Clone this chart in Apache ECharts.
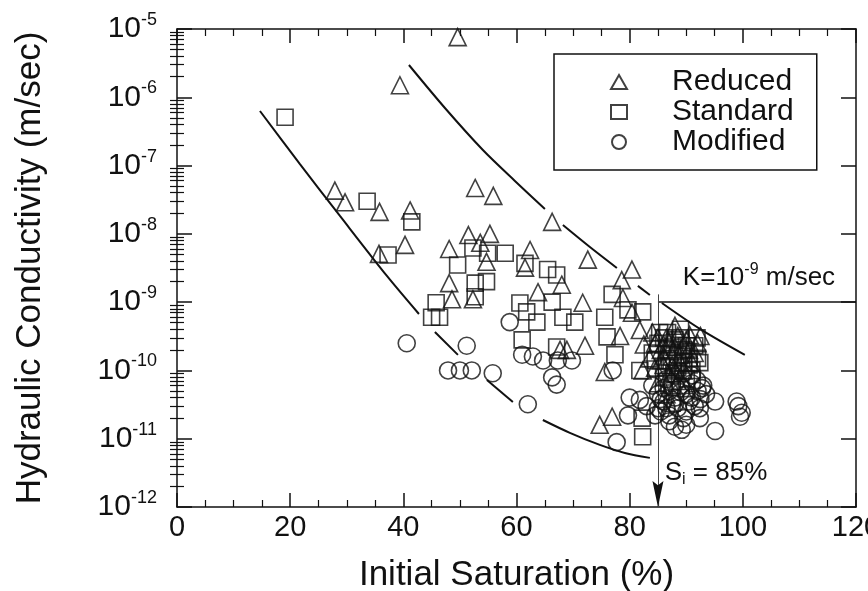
<!DOCTYPE html>
<html>
<head>
<meta charset="utf-8">
<script src="https://cdn.jsdelivr.net/npm/echarts@6/dist/echarts.min.js"></script>
<style>
  html, body { margin: 0; padding: 0; background: #ffffff; }
  #chart { width: 868px; height: 591px; }
</style>
</head>
<body>
<div id="chart"></div>
<script>
// Hydraulic conductivity vs. initial saturation, by compaction effort.
// Each point: [initial saturation (%), hydraulic conductivity (m/sec)]
const reduced = [
  [49.6, 7.6e-6], [39.4, 1.5e-6], [27.9, 4.3e-8], [29.7, 2.9e-8], [35.8, 2.1e-8],
  [41.2, 2.2e-8], [40.3, 6.9e-9], [35.7, 5.1e-9], [52.7, 4.7e-8], [55.9, 3.6e-8],
  [66.3, 1.5e-8], [51.5, 9.6e-9], [55.3, 1.0e-8], [53.6, 7.4e-9], [48.1, 6.0e-9],
  [54.7, 3.9e-9], [62.4, 5.8e-9], [61.5, 3.2e-9], [72.6, 4.2e-9], [80.4, 3.0e-9],
  [78.6, 2.1e-9], [48.1, 1.9e-9], [48.6, 1.1e-9], [52.3, 1.1e-9], [63.8, 1.4e-9],
  [68.0, 1.8e-9], [71.7, 9.8e-10], [72.1, 2.3e-10], [67.7, 2.0e-10], [68.9, 2.0e-10],
  [74.7, 1.6e-11], [76.9, 2.1e-11], [75.6, 9.5e-11], [78.8, 1.15e-9], [80.4, 7.0e-10],
  [78.3, 3.2e-10], [81.8, 3.9e-10], [82.3, 1.0e-10],
  [84.5, 2.5e-10], [85.5, 2.0e-10], [86.5, 3.0e-10], [87.5, 1.6e-10], [88.0, 2.2e-10],
  [89.0, 1.3e-10], [90.0, 2.8e-10], [90.6, 3.3e-10], [91.5, 1.8e-10], [86.0, 1.2e-10],
  [87.0, 9.0e-11], [88.5, 7.0e-11], [85.0, 6.5e-11], [83.5, 1.5e-10], [82.5, 2.4e-10],
  [84.0, 3.6e-10], [89.5, 1.0e-10], [92.0, 2.5e-10], [88.0, 4.5e-10], [86.5, 4.5e-11],
  [90.0, 5.5e-11], [85.0, 3.0e-10], [86.0, 2.4e-10], [87.0, 2.6e-10], [88.5, 3.2e-10],
  [89.5, 2.4e-10], [90.5, 2.0e-10], [91.0, 1.3e-10], [87.5, 1.2e-10], [86.0, 1.6e-10],
  [84.5, 1.1e-10], [89.0, 1.7e-10], [92.5, 3.2e-10], [85.5, 1.4e-10], [88.0, 1.0e-10]
];

const standard = [
  [19.1, 5.1e-7], [33.6, 3.0e-8], [41.5, 1.5e-8], [37.3, 4.9e-9], [45.8, 9.8e-10],
  [45.0, 6.0e-10], [46.4, 6.0e-10], [52.3, 6.2e-9], [49.6, 3.5e-9], [54.9, 5.2e-9],
  [58.0, 5.2e-9], [54.7, 2.0e-9], [52.7, 1.9e-9], [52.7, 1.2e-9], [61.5, 3.7e-9],
  [65.5, 3.0e-9], [67.1, 2.5e-9], [66.3, 1.0e-9], [60.6, 9.7e-10], [61.8, 7.2e-10],
  [63.6, 5.1e-10], [68.2, 6.0e-10], [70.3, 5.1e-10], [61.0, 2.8e-10], [75.6, 6.0e-10],
  [76.0, 3.1e-10], [76.9, 1.3e-9], [67.1, 2.2e-10], [79.7, 7.7e-10], [82.3, 7.2e-10],
  [77.4, 1.7e-10], [81.8, 1.0e-10], [82.2, 2.0e-11], [82.3, 1.07e-11],
  [85.3, 3.6e-10], [91.9, 3.0e-10], [86.5, 2.0e-10], [88.0, 2.8e-10], [89.5, 2.0e-10],
  [87.0, 1.4e-10], [90.5, 1.5e-10], [88.5, 1.1e-10], [86.0, 8.0e-11], [91.0, 1.0e-10],
  [84.0, 1.8e-10], [89.0, 4.0e-10], [87.5, 6.0e-11], [90.0, 7.5e-11], [92.4, 1.3e-10],
  [86.7, 3.6e-10], [87.5, 3.3e-11], [85.0, 2.5e-10], [86.0, 3.0e-10], [87.5, 2.2e-10],
  [89.0, 3.0e-10], [90.0, 2.3e-10], [88.5, 1.7e-10], [89.5, 1.3e-10], [86.5, 1.1e-10],
  [87.8, 9.0e-11], [90.5, 1.2e-10], [84.5, 1.4e-10], [91.5, 2.3e-10], [92.0, 1.5e-10]
];

const modified = [
  [40.6, 2.5e-10], [51.2, 2.3e-10], [47.9, 1.0e-10], [50.0, 1.0e-10], [52.1, 1.0e-10],
  [55.8, 9.1e-11], [62.0, 3.2e-11], [58.8, 5.1e-10], [61.0, 1.7e-10], [62.9, 1.6e-10],
  [64.7, 1.4e-10], [67.3, 1.4e-10], [69.8, 1.4e-10], [66.3, 7.9e-11], [67.1, 6.2e-11],
  [77.7, 8.9e-12], [80.0, 4.0e-11], [79.7, 2.2e-11], [77.0, 1.0e-10], [81.8, 3.7e-11],
  [95.1, 3.5e-11], [95.1, 1.3e-11], [98.9, 3.5e-11], [99.2, 3.0e-11], [99.8, 2.4e-11],
  [99.5, 2.1e-11], [89.2, 1.35e-11], [92.4, 2.0e-11],
  [84.0, 6.0e-11], [85.0, 4.5e-11], [86.0, 3.5e-11], [87.0, 5.0e-11], [88.0, 4.0e-11],
  [89.0, 6.0e-11], [90.0, 4.5e-11], [91.0, 6.5e-11], [92.0, 5.0e-11], [93.0, 6.0e-11],
  [85.5, 2.5e-11], [87.0, 2.2e-11], [88.5, 2.8e-11], [90.0, 2.5e-11], [91.5, 3.0e-11],
  [86.5, 7.5e-11], [88.0, 8.5e-11], [89.5, 9.0e-11], [91.0, 8.5e-11], [84.5, 2.2e-11],
  [87.0, 1.8e-11], [83.0, 3.0e-11], [91.9, 7.2e-11], [92.8, 5.5e-11], [85.0, 2.8e-11],
  [92.4, 2.8e-11], [86.0, 5.5e-11], [87.5, 6.5e-11], [89.0, 4.8e-11], [90.5, 3.5e-11],
  [88.0, 3.2e-11], [86.5, 2.8e-11], [89.5, 2.0e-11], [91.0, 4.0e-11], [92.5, 3.8e-11],
  [90.0, 1.6e-11], [88.0, 1.5e-11], [93.5, 4.5e-11], [85.5, 3.8e-11]
];

// Envelope curves (segments are broken where symbols sit on the line)
const lowerBound = [
  [[14.66, 6.30e-7], [21.73, 1.05e-7], [28.80, 1.83e-8], [37.10, 2.42e-9], [42.76, 6.71e-10]],
  [[45.58, 3.66e-10], [49.65, 1.69e-10]],
  [[54.77, 7.26e-11], [59.36, 3.46e-11]],
  [[64.66, 1.88e-11], [69.43, 1.22e-11], [74.73, 8.11e-12], [79.15, 6.19e-12], [83.57, 5.24e-12]]
];
const upperBound = [
  [[40.99, 2.97e-6], [47.35, 6.97e-7], [54.06, 1.69e-7], [59.72, 5.96e-8], [65.02, 2.32e-8]],
  [[68.20, 1.35e-8], [72.97, 6.43e-9], [77.74, 3.17e-9]],
  [[81.45, 1.73e-9], [83.57, 1.27e-9]],
  [[85.69, 9.7e-10], [92.40, 4.06e-10], [100.35, 1.69e-10]]
];

const seriesNames = ['Reduced', 'Standard', 'Modified'];
const kLimit = 1e-9;      // m/sec
const satLimit = 85;      // %
const xTicks = { min: 0, max: 120, step: 20 };
const yDecades = { min: 1e-12, max: 1e-5 };

const FONT = '"Liberation Sans", Arial, Helvetica, sans-serif';
const INK = '#111111';

// log-spaced minor tick values (2..9 x 10^n)
const minorLogTicks = [];
for (let e = -12; e < -5; e++) {
  for (let k = 2; k <= 9; k++) minorLogTicks.push(k * Math.pow(10, e));
}

const markerStyle = { color: 'rgba(0,0,0,0)', borderColor: INK, borderWidth: 1.6 };

function curveSeries(segments, name) {
  return segments.map((seg, i) => ({
    name: name + i,
    type: 'line',
    data: seg,
    smooth: 0.3,
    showSymbol: false,
    symbol: 'none',
    silent: true,
    z: 1,
    lineStyle: { color: INK, width: 2 }
  }));
}

const yLabelRich = {
  b: { fontSize: 30, fontFamily: FONT, color: INK, lineHeight: 36 },
  s: { fontSize: 18, fontFamily: FONT, color: INK, verticalAlign: 'top', lineHeight: 18 }
};

const chart = echarts.init(document.getElementById('chart'), null, { renderer: 'canvas' });

const option = {
  backgroundColor: '#ffffff',
  animation: false,
  grid: { left: 177, right: 12, top: 29, bottom: 84, outerBoundsMode: 'none', containLabel: false },
  legend: {
    data: seriesNames,
    orient: 'vertical',
    left: 554,
    top: 54,
    padding: [13, 23, 13, 56],
    itemGap: 0,
    itemWidth: 16,
    itemHeight: 14,
    borderColor: INK,
    borderWidth: 1.5,
    selectedMode: false,
    textStyle: { fontSize: 30, fontFamily: FONT, color: INK, lineHeight: 29, padding: [0, 0, 0, 40] }
  },
  xAxis: [
    {
      type: 'value', position: 'bottom',
      min: xTicks.min, max: xTicks.max, interval: xTicks.step,
      name: 'Initial Saturation (%)', nameLocation: 'middle', nameGap: 51,
      nameTextStyle: { fontSize: 35, fontFamily: FONT, color: INK },
      axisLine: { show: true, onZero: false, lineStyle: { color: INK, width: 1.5 } },
      axisTick: { show: true, inside: true, length: 14, lineStyle: { color: INK, width: 1.5 } },
      minorTick: { show: true, splitNumber: 4, length: 7, lineStyle: { color: INK, width: 1.2 } },
      axisLabel: { fontSize: 29, fontFamily: FONT, color: INK, margin: 6, showMinLabel: true, showMaxLabel: true },
      splitLine: { show: false }
    },
    {
      type: 'value', position: 'top',
      min: xTicks.min, max: xTicks.max, interval: xTicks.step,
      axisLine: { show: true, onZero: false, lineStyle: { color: INK, width: 1.5 } },
      axisTick: { show: true, inside: true, length: 14, lineStyle: { color: INK, width: 1.5 } },
      minorTick: { show: true, splitNumber: 4, length: 7, lineStyle: { color: INK, width: 1.2 } },
      axisLabel: { show: false },
      splitLine: { show: false }
    }
  ],
  yAxis: [
    {
      type: 'log', logBase: 10, position: 'left',
      min: yDecades.min, max: yDecades.max, splitNumber: 7,
      name: 'Hydraulic Conductivity (m/sec)', nameLocation: 'middle', nameGap: 129,
      nameRotate: 90,
      nameTextStyle: { fontSize: 35, fontFamily: FONT, color: INK },
      axisLine: { show: true, onZero: false, lineStyle: { color: INK, width: 1.5 } },
      axisTick: { show: true, inside: true, length: 15, lineStyle: { color: INK, width: 1.5 } },
      axisLabel: {
        margin: 20,
        formatter: v => '{b|10}{s|' + Math.round(Math.log10(v)) + '}',
        rich: yLabelRich
      },
      splitLine: { show: false }
    },
    {
      type: 'log', logBase: 10, position: 'right',
      min: yDecades.min, max: yDecades.max, splitNumber: 7,
      axisLine: { show: true, onZero: false, lineStyle: { color: INK, width: 1.5 } },
      axisTick: { show: true, inside: true, length: 15, lineStyle: { color: INK, width: 1.5 } },
      axisLabel: { show: false },
      splitLine: { show: false }
    },
    {
      type: 'log', logBase: 10, position: 'left',
      min: yDecades.min, max: yDecades.max,
      axisLine: { show: false },
      axisTick: { show: true, inside: true, length: 7, customValues: minorLogTicks, lineStyle: { color: INK, width: 1.2 } },
      axisLabel: { show: false },
      splitLine: { show: false }
    },
    {
      type: 'log', logBase: 10, position: 'right',
      min: yDecades.min, max: yDecades.max,
      axisLine: { show: false },
      axisTick: { show: true, inside: true, length: 7, customValues: minorLogTicks, lineStyle: { color: INK, width: 1.2 } },
      axisLabel: { show: false },
      splitLine: { show: false }
    }
  ],
  series: [
    ...curveSeries(lowerBound, 'lower'),
    ...curveSeries(upperBound, 'upper'),
    {
      name: 'limits',
      type: 'line',
      data: [],
      silent: true,
      z: 2,
      markLine: {
        silent: true,
        symbol: ['none', 'none'],
        animation: false,
        label: { show: false },
        data: [
          [
            { coord: [satLimit, kLimit], lineStyle: { color: INK, width: 1.5, type: 'solid' } },
            { coord: [xTicks.max, kLimit] }
          ],
          [
            { coord: [satLimit, kLimit * 1.3], lineStyle: { color: '#444', width: 1, type: 'solid' } },
            { coord: [satLimit, yDecades.min] }
          ]
        ]
      },
      markPoint: {
        silent: true,
        animation: false,
        data: [
          {
            coord: [satLimit, yDecades.min],
            symbol: 'path://M0,0 L5,4 L10,0 L5,24 Z',
            symbolSize: [11, 26],
            symbolOffset: [0, '-50%'],
            itemStyle: { color: INK },
            label: { show: false }
          },
          {
            coord: [89.4, 2.26e-9],
            symbol: 'circle', symbolSize: 0,
            label: {
              show: true, position: 'right', distance: 0,
              formatter: '{m|K=10}{p|-9}{m| m/sec}',
              rich: {
                m: { fontSize: 26, fontFamily: FONT, color: INK, lineHeight: 32 },
                p: { fontSize: 16, fontFamily: FONT, color: INK, verticalAlign: 'top', lineHeight: 16 }
              }
            }
          },
          {
            coord: [86.2, 3.16e-12],
            symbol: 'circle', symbolSize: 0,
            label: {
              show: true, position: 'right', distance: 0,
              formatter: '{m|S}{i|i}{m| = 85%}',
              rich: {
                m: { fontSize: 26, fontFamily: FONT, color: INK, lineHeight: 30 },
                i: { fontSize: 16, fontFamily: FONT, color: INK, verticalAlign: 'bottom', lineHeight: 16 }
              }
            }
          }
        ]
      }
    },
    {
      name: 'Reduced', type: 'scatter', data: reduced,
      symbol: 'triangle', symbolSize: 17, z: 5, itemStyle: markerStyle
    },
    {
      name: 'Standard', type: 'scatter', data: standard,
      symbol: 'rect', symbolSize: 16, z: 5, itemStyle: markerStyle
    },
    {
      name: 'Modified', type: 'scatter', data: modified,
      symbol: 'circle', symbolSize: 17, z: 5, itemStyle: markerStyle
    }
  ]
};

chart.setOption(option);
</script>
</body>
</html>
